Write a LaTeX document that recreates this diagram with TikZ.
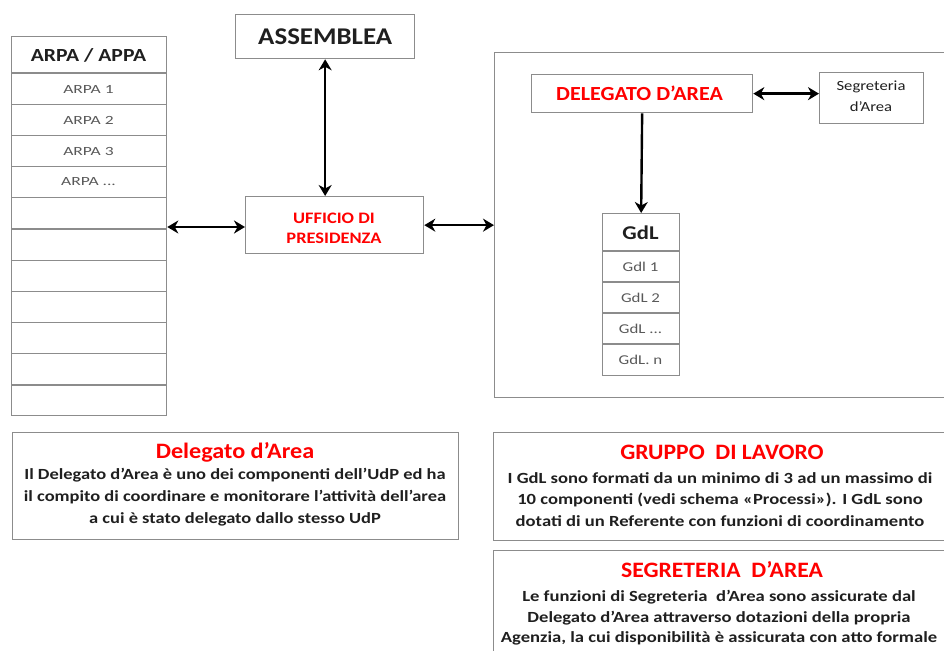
\documentclass[tikz,border=0pt]{standalone}
\usepackage{fontspec}
\setmainfont{Carlito}
\usetikzlibrary{arrows.meta}
\definecolor{bordergray}{HTML}{8C8C8C}
\definecolor{rowgray}{HTML}{595959}
\definecolor{txtred}{HTML}{FF0000}
\definecolor{txtdark}{HTML}{1F1F1F}
\newcommand\hs[2]{\scalebox{#1}[1]{#2}}
\begin{document}
\begin{tikzpicture}[x=1pt,y=-1pt,
  box/.style={draw=bordergray, line width=1.3pt, inner sep=0pt, anchor=north west},
  rowline/.style={draw=bordergray, line width=1.3pt},
  txt/.style={inner sep=0pt},
  lbl/.style={inner sep=0pt, text=rowgray, font=\fontsize{12.5}{14}\selectfont},
  glbl/.style={inner sep=0pt, text=rowgray, font=\fontsize{13.5}{15}\selectfont},
  head/.style={inner sep=0pt, text=txtdark, font=\bfseries\fontsize{18.5}{20}\selectfont},
  title/.style={inner sep=0pt, text=txtred, font=\bfseries\fontsize{22}{24}\selectfont},
  body/.style={inner sep=0pt, text=txtdark, font=\bfseries\fontsize{15.5}{18}\selectfont},
  tip/.tip={Stealth[length=11pt,width=13pt,inset=3.5pt]},
  link/.style={draw=black, line width=2.4pt, tip-tip},
  onelink/.style={draw=black, line width=2.4pt, -tip}
]
\useasboundingbox (0,0) rectangle (944,650);
\clip (0,0) rectangle (944,650);

% ARPA / APPA table
\node[box, minimum width=155pt, minimum height=379pt] (arpa) at (11,36) {};
\node[head] (arpah) at (88.5,55) {\hs{1.17}{ARPA / APPA}};
\foreach \k in {0,...,10} {
  \draw[rowline] (arpa.west |- 0,{73+31.2*\k}) -- (arpa.east |- 0,{73+31.2*\k});
}
\node[lbl] (arpa1) at (88.5,89) {\hs{1.4}{ARPA 1}};
\node[lbl] (arpa2) at (88.5,120.5) {\hs{1.4}{ARPA 2}};
\node[lbl] (arpa3) at (88.5,151.5) {\hs{1.4}{ARPA 3}};
\node[lbl] (arpa4) at (88.5,182) {\hs{1.4}{ARPA ...}};

% Assemblea
\node[box, minimum width=179pt, minimum height=44pt] (assemblea) at (235,14) {};
\node[txt, text=txtdark, font=\bfseries\fontsize{24}{26}\selectfont] (assemblea-t) at (assemblea.center) {\hs{1.12}{ASSEMBLEA}};

% Ufficio di presidenza
\node[box, minimum width=178pt, minimum height=57pt] (uff) at (245,196) {};
\node[txt, text=txtred, font=\bfseries\fontsize{16}{18}\selectfont] (uff-t1) at (334,218) {\hs{1.15}{UFFICIO DI}};
\node[txt, text=txtred, font=\bfseries\fontsize{16}{18}\selectfont] (uff-t2) at (334,238) {\hs{1.15}{PRESIDENZA}};

% Area box
\node[box, minimum width=470pt, minimum height=345pt] (area) at (494,52) {};

% Delegato d'Area
\node[box, minimum width=221pt, minimum height=38pt] (deleg) at (531,74) {};
\node[txt, text=txtred, font=\bfseries\fontsize{20}{22}\selectfont] (deleg-t) at (639.5,93) {\hs{1.1}{DELEGATO D’AREA}};

% Segreteria d'Area
\node[box, minimum width=104pt, minimum height=51pt] (segr) at (819,72) {};
\node[txt, text=txtdark, font=\fontsize{14}{16}\selectfont] (segr-t1) at (871,87) {\hs{1.19}{Segreteria}};
\node[txt, text=txtdark, font=\fontsize{14}{16}\selectfont] (segr-t2) at (871,107) {\hs{1.19}{d’Area}};

% GdL table
\node[box, minimum width=77pt, minimum height=162pt] (gdl) at (602,213) {};
\node[head, font=\bfseries\fontsize{19.5}{21}\selectfont] (gdlh) at (640.5,232.5) {\hs{1.16}{GdL}};
\foreach \yy in {251,282,313,344} {
  \draw[rowline] (gdl.west |- 0,\yy) -- (gdl.east |- 0,\yy);
}
\node[glbl] (gdl1) at (640.5,267) {\hs{1.25}{Gdl 1}};
\node[glbl] (gdl2) at (640.5,298) {\hs{1.25}{GdL 2}};
\node[glbl] (gdl3) at (640.5,329) {\hs{1.25}{GdL ...}};
\node[glbl] (gdl4) at (640.5,360) {\hs{1.25}{GdL. n}};

% Connectors
\draw[link] (assemblea.south) -- (assemblea.south |- uff.north);
\draw[link] (arpa.east |- 0,227) -- (uff.west |- 0,227);
\draw[link] (uff.east) -- (uff.east -| area.west);
\draw[link] (deleg.east) -- (deleg.east -| segr.west);
\draw[onelink] (deleg.south) -- (gdl.north);

% Bottom-left description
\node[box, minimum width=446pt, minimum height=107pt] (descdel) at (12,432) {};
\node[title] (descdel-t) at (235,452) {\hs{1.1}{Delegato d’Area}};
\node[body] (descdel-b1) at (235,475) {\hs{1.19}{Il Delegato d’Area è uno dei componenti dell’UdP ed ha}};
\node[body] (descdel-b2) at (235,497) {\hs{1.19}{il compito di coordinare e monitorare l’attività dell’area}};
\node[body] (descdel-b3) at (235,519) {\hs{1.19}{a cui è stato delegato dallo stesso UdP}};

% Gruppo di lavoro
\node[box, minimum width=470pt, minimum height=108pt] (descgdl) at (493,432) {};
\node[title] (descgdl-t) at (722,452) {\hs{1.075}{GRUPPO\ \ DI LAVORO}};
\node[body] (descgdl-b1) at (720,478) {\hs{1.2}{I GdL sono formati da un minimo di 3 ad un massimo di}};
\node[body] (descgdl-b2) at (720,500) {\hs{1.2}{10 componenti (vedi schema «Processi»). I GdL sono}};
\node[body] (descgdl-b3) at (720,521) {\hs{1.2}{dotati di un Referente con funzioni di coordinamento}};

% Segreteria d'Area
\node[box, minimum width=470pt, minimum height=130pt] (descsegr) at (493,550) {};
\node[title] (descsegr-t) at (722,570) {\hs{1.075}{SEGRETERIA\ \ D’AREA}};
\node[body] (descsegr-b1) at (719,597) {\hs{1.2}{Le funzioni di Segreteria\ \ d’Area sono assicurate dal}};
\node[body] (descsegr-b2) at (719,618) {\hs{1.2}{Delegato d’Area attraverso dotazioni della propria}};
\node[body] (descsegr-b3) at (719,638) {\hs{1.2}{Agenzia, la cui disponibilità è assicurata con atto formale}};
\end{tikzpicture}
\end{document}
